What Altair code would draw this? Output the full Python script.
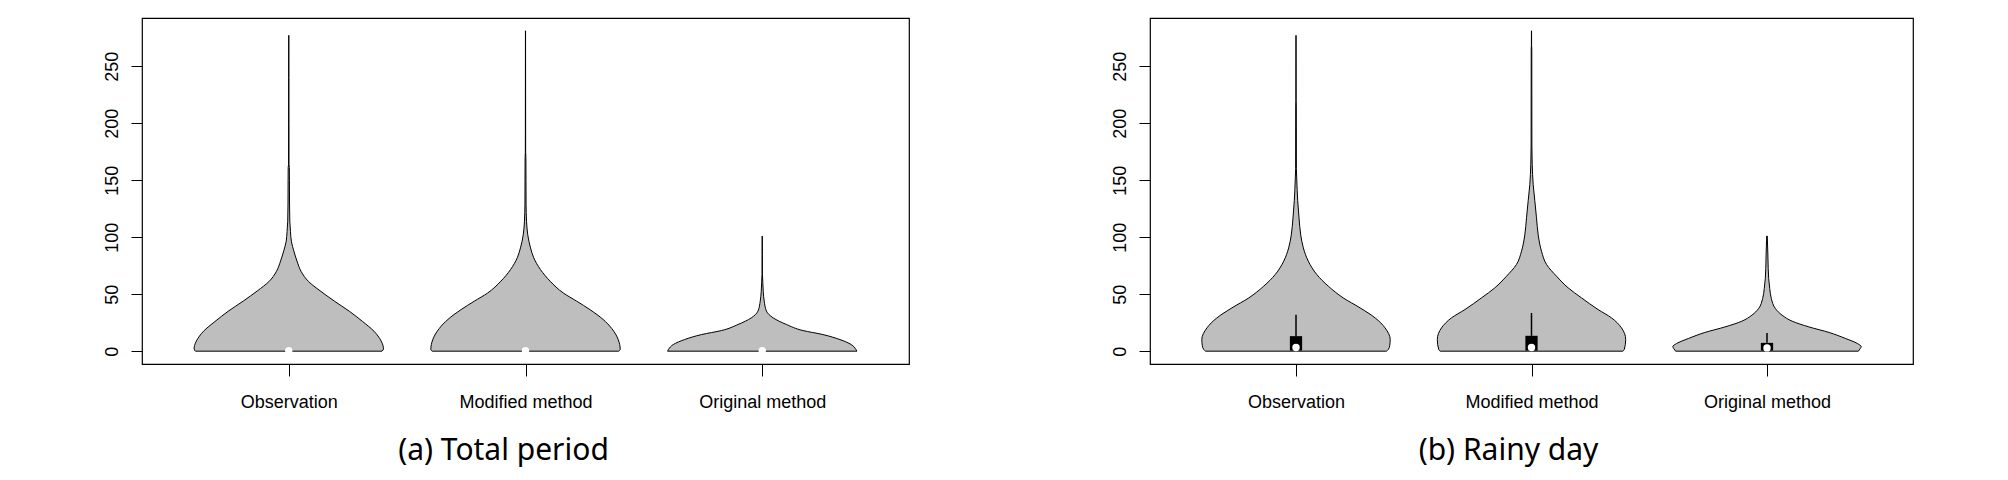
import altair as alt
import pandas as pd

METHODS = ["Observation", "Modified method", "Original method"]
PANEL_TITLES = ["(a) Total period", "(b) Rainy day"]

# Violin profiles: value (mm) and relative half-width (1 = widest)
A_OBS_V = [0, 2, 5, 9, 17.5, 26, 35, 44, 53, 61, 70, 79, 88, 96, 105, 114, 130, 150, 161, 164, 200, 240, 277]
A_OBS_W = [0.985, 1.0, 0.995, 0.975, 0.9, 0.78, 0.64, 0.48, 0.33, 0.21, 0.13, 0.087, 0.053, 0.028, 0.018,
           0.011, 0.008, 0.007, 0.006, 0.002, 0.0015, 0.001, 0.0005]
A_MOD_V = [0, 1.5, 10, 20, 27.8, 36.5, 43.9, 51, 61.4, 71.6, 81.9, 90.6, 102, 114, 129, 150, 170, 174, 230, 281]
A_MOD_W = [0.985, 1.0, 0.98, 0.91, 0.82, 0.68, 0.54, 0.40, 0.26, 0.158, 0.087, 0.053, 0.024, 0.011, 0.006,
           0.005, 0.004, 0.0015, 0.001, 0.0005]
A_ORI_V = [0, 1.5, 5.8, 10.2, 14.6, 18.1, 23.4, 29.2, 35.1, 43.9, 52.6, 59.9, 65, 67, 85, 101]
A_ORI_W = [1.0, 0.99, 0.94, 0.82, 0.64, 0.43, 0.256, 0.116, 0.045, 0.021, 0.0105, 0.006, 0.004, 0.0015,
           0.001, 0.0005]

B_OBS_V = [0, 1.5, 5, 10.2, 20.5, 29.2, 38, 46.8, 57, 67.3, 79, 90.6, 102, 117, 132, 152, 160, 215, 220, 277]
B_OBS_W = [0.96, 0.98, 0.995, 1.0, 0.945, 0.84, 0.68, 0.50, 0.343, 0.22, 0.13, 0.078, 0.05, 0.032, 0.018,
           0.0075, 0.004, 0.003, 0.001, 0.0005]
B_MOD_V = [0, 1.5, 10.2, 20.5, 29.2, 36.5, 46.8, 55.5, 65.8, 76, 87.7, 102, 117, 132, 146, 164, 180, 265, 268, 281]
B_MOD_W = [0.97, 0.985, 1.0, 0.955, 0.85, 0.707, 0.53, 0.39, 0.265, 0.16, 0.106, 0.071, 0.053, 0.035, 0.018,
           0.0075, 0.004, 0.003, 0.001, 0.0005]
B_ORI_V = [0, 2.3, 4, 6.7, 11.1, 16.4, 21.3, 26.3, 31.6, 37.4, 46.2, 55, 63.7, 72.5, 87, 101]
B_ORI_W = [0.97, 0.99, 1.0, 0.96, 0.835, 0.66, 0.445, 0.267, 0.16, 0.089, 0.046, 0.029, 0.018, 0.013,
           0.0085, 0.003]

# Box-plot statistics
A_MED = [0.5, 0.5, 0.5]
B_Q1 = [0.5, 0.5, 0.5]
B_Q3 = [13.2, 13.5, 7.3]
B_MED = [3.3, 3.3, 2.9]
B_WHISK = [32, 33.5, 16]

Y_TICKS = [0, 50, 100, 150, 200, 250]


def violin_frame(profiles):
    rows = []
    for i, (vs, ws) in enumerate(profiles):
        for v, w in zip(vs, ws):
            rows.append({"idx": i + 1, "method": METHODS[i], "v": v, "r": w})
    return pd.DataFrame(rows)


label_expr = " : ".join(
    [f"datum.value == {i + 1} ? '{m}'" for i, m in enumerate(METHODS[:-1])]) + f" : '{METHODS[-1]}'"

yscale = alt.Scale(domain=[-11.24, 292.24], nice=False, zero=False)
xscale = alt.Scale(domain=[0.38, 3.62], nice=False, zero=False)


def panel(vdf, title, width, title_x, med, box=None):
    yaxis = alt.Axis(values=Y_TICKS, labelAngle=270, labelAlign="center", labelBaseline="alphabetic",
                     labelPadding=14, tickSize=11, grid=False, domain=False, title=None)
    xaxis = alt.Axis(values=[1, 2, 3], labelExpr=label_expr, tickSize=12, grid=False, domain=False,
                     labelBaseline="alphabetic", labelPadding=31, title=title,
                     titleFont="Noto Sans", titleFontSize=30, titleFontWeight="normal",
                     titleColor="black", titleX=title_x, titleY=95, titleBaseline="alphabetic",
                     titleAlign="center", titleAnchor="start")
    X = lambda f: alt.X(f, scale=xscale, axis=xaxis, title=title)
    Y = lambda f: alt.Y(f, scale=yscale, axis=yaxis, title=None)
    area = alt.Chart(vdf).mark_area(
        orient="horizontal", fill="#bebebe", stroke="black", strokeWidth=1, interpolate="monotone",
        fillOpacity=1
    ).transform_calculate(
        xl="datum.idx - 0.4 * datum.r", xr="datum.idx + 0.4 * datum.r"
    ).encode(
        y=Y("v:Q"),
        x=X("xl:Q"),
        x2="xr:Q",
        detail="method:N",
    )
    layers = [area]
    if box is not None:
        bdf = pd.DataFrame({"idx": [1, 2, 3], "q1": box[0], "q3": box[1], "whisk": box[2]})
        rect = alt.Chart(bdf).mark_rect(color="black").transform_calculate(
            bl="datum.idx - 0.026", br="datum.idx + 0.026"
        ).encode(
            x=X("bl:Q"), x2="br:Q",
            y=Y("q1:Q"), y2="q3:Q",
        )
        rule = alt.Chart(bdf).mark_rule(color="black", strokeWidth=1.5).encode(
            x=X("idx:Q"),
            y=Y("q3:Q"), y2="whisk:Q",
        )
        layers += [rect, rule]
    mdf = pd.DataFrame({"idx": [1, 2, 3], "med": med})
    dots = alt.Chart(mdf).mark_circle(color="white", size=55, opacity=1).encode(
        x=X("idx:Q"),
        y=Y("med:Q"),
    )
    layers.append(dots)
    return alt.layer(*layers).properties(width=width, height=346)


va = violin_frame([(A_OBS_V, A_OBS_W), (A_MOD_V, A_MOD_W), (A_ORI_V, A_ORI_W)])
vb = violin_frame([(B_OBS_V, B_OBS_W), (B_MOD_V, B_MOD_W), (B_ORI_V, B_ORI_W)])

pa = panel(va, PANEL_TITLES[0], 767, 361, A_MED)
pb = panel(vb, PANEL_TITLES[1], 763, 358, B_MED, box=(B_Q1, B_Q3, B_WHISK))

chart = alt.hconcat(pa, pb, spacing=200).properties(
    padding={"left": 94, "top": 9, "right": 10, "bottom": 60}
).configure_view(
    stroke="black", strokeWidth=1.2
).configure_axis(
    labelFont="Liberation Sans", labelFontSize=18, labelColor="black",
    tickColor="black", tickWidth=1
)

chart.save("out.html", embed_options={"renderer": "svg", "actions": False})
